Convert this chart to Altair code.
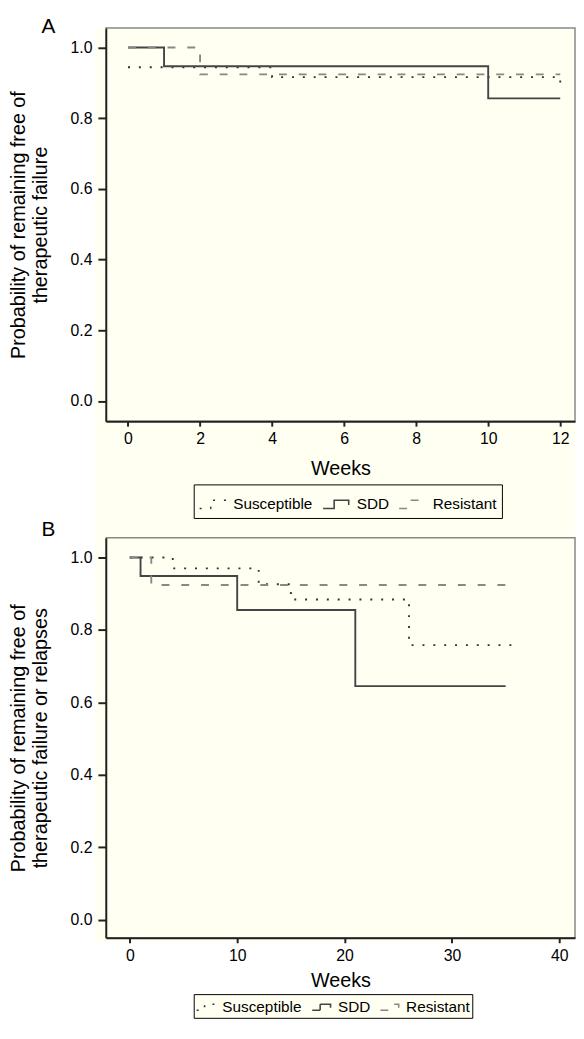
import altair as alt
import pandas as pd

groups = ["Susceptible", "SDD", "Resistant"]

# Panel A (weeks, probability)
a_sus_w = [0, 4, 12]
a_sus_p = [0.944, 0.916, 0.897]
a_sdd_w = [0, 1, 10, 12]
a_sdd_p = [1.0, 0.947, 0.856, 0.856]
a_res_w = [0, 2, 12]
a_res_p = [1.0, 0.924, 0.924]

# Panel B
b_sus_w = [0, 4, 12, 15, 26, 35.8]
b_sus_p = [1.0, 0.970, 0.926, 0.884, 0.758, 0.758]
b_sdd_w = [0, 1, 10, 21, 35]
b_sdd_p = [1.0, 0.949, 0.855, 0.645, 0.645]
b_res_w = [0, 2, 35.8]
b_res_p = [1.0, 0.924, 0.924]

a_xticks = [0, 2, 4, 6, 8, 10, 12]
b_xticks = [0, 10, 20, 30, 40]
y_ticks = [0.0, 0.2, 0.4, 0.6, 0.8, 1.0]


def frame(sw, sp, dw, dp, rw, rp):
    rows = []
    for g, ws, ps in ((groups[0], sw, sp), (groups[1], dw, dp), (groups[2], rw, rp)):
        for w, p in zip(ws, ps):
            rows.append({"group": g, "week": w, "p": p})
    return pd.DataFrame(rows)


df_a = frame(a_sus_w, a_sus_p, a_sdd_w, a_sdd_p, a_res_w, a_res_p)
df_b = frame(b_sus_w, b_sus_p, b_sdd_w, b_sdd_p, b_res_w, b_res_p)

CREAM = "#FFFFF2"
W = 475
GLYPH = "M-1,0.3L-0.2,0.3L-0.2,-0.3L0.85,-0.3L0.85,0.05"


def panel(df, xdom, ydom, h, xticks, letter, title_offset, ytitle, lx, ly, lpad, lsize,
          xtitle_pad, cream_bottom, cream_top):
    leg = alt.Legend(
        title=None, orient="none", direction="horizontal", legendX=lx, legendY=ly,
        strokeColor="black", padding=lpad, fillColor=CREAM,
        symbolType=GLYPH, symbolSize=lsize, symbolStrokeWidth=1.6,
        labelFontSize=15.5, labelColor="black", labelOffset=5, columnPadding=6,
    )
    base = alt.Chart(df)
    lines = base.mark_line(interpolate="step-after", strokeWidth=1.9).encode(
        x=alt.X("week:Q", scale=alt.Scale(domain=xdom, nice=False, zero=False),
                axis=alt.Axis(values=xticks, title="Weeks", tickSize=5, tickWidth=2,
                              tickColor="#222", domainColor="#222", domainWidth=2,
                              labelFontSize=16, labelColor="black", labelPadding=5,
                              titleFontSize=20, titleFontWeight="normal", titleColor="black",
                              titlePadding=xtitle_pad, grid=False, zindex=1, labelFlush=False)),
        y=alt.Y("p:Q", scale=alt.Scale(domain=ydom, nice=False, zero=False),
                axis=alt.Axis(values=y_ticks, format=".1f", title=ytitle, tickSize=8, tickWidth=2,
                              tickColor="#222", domainColor="#222", domainWidth=2,
                              labelFontSize=16, labelColor="black", labelPadding=6,
                              titleFontSize=20, titleFontWeight="normal", titleColor="black",
                              titlePadding=20, titleLineHeight=22, grid=False, zindex=1,
                              labelFlush=False)),
        strokeDash=alt.StrokeDash("group:N", scale=alt.Scale(domain=groups, range=[[2, 9], [1, 0], [8, 12]]), legend=leg),
        color=alt.Color("group:N", scale=alt.Scale(domain=groups, range=["#333333", "#444444", "#888888"]), legend=leg),
        order=alt.Order("week:Q"),
    )
    one = pd.DataFrame({"k": [0]})
    left_strip = alt.Chart(one).mark_rect(color=CREAM).encode(
        x=alt.value(-11), x2=alt.value(0), y=alt.value(cream_top), y2=alt.value(h))
    bottom = alt.Chart(one).mark_rect(color=CREAM).encode(
        x=alt.value(-11), x2=alt.value(W), y=alt.value(h), y2=alt.value(cream_bottom))
    return alt.layer(left_strip, bottom, lines).properties(
        width=W, height=h,
        title=alt.TitleParams(letter, anchor="start", frame="group", dx=-65, offset=title_offset,
                              baseline="alphabetic", fontSize=21, fontWeight="normal", color="black"),
    )


pa = panel(df_a, [-0.617, 12.41], [-0.057, 1.055], 398, a_xticks, "A", -26,
           ["Probability of remaining free of", "therapeutic failure"], 89, 462, 5, 784, 12, 516, 0)
pb = panel(df_b, [-2.236, 41.46], [-0.050, 1.0545], 405, b_xticks, "B", -21,
           ["Probability of remaining free of", "therapeutic failure or relapses"], 89, 462, 2, 400, 7, 409, -2)

chart = alt.vconcat(pa, pb, spacing=118, bounds="flush").resolve_scale(
    color="independent", strokeDash="independent"
).resolve_legend(
    color="independent", strokeDash="independent"
).properties(
    padding={"left": 0, "top": 1, "right": 0, "bottom": 0}
).configure(font="Liberation Sans").configure_view(
    stroke="#888888", strokeWidth=1.5, fill=CREAM
)

chart.save("out.html", embed_options={"renderer": "svg", "actions": False})
